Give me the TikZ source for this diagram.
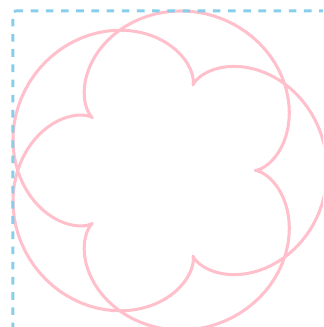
\documentclass[tikz,border=0pt]{standalone}
\usepackage{xcolor}
\usepackage{tikz}
\definecolor{curvedraw}{HTML}{FFC0CB}
\definecolor{framedraw}{HTML}{87CEEB}
\tikzset{
  epi/.style={draw=curvedraw, line width=1.2pt, line join=round},
  bbox/.style={draw=framedraw, dashed, line width=1.2pt, rounded corners=1pt},
}
\begin{document}
\begin{tikzpicture}[x=0.25cm, y=0.25cm]
  \clip (-9.178,-8.694) rectangle (8.767,9.472);
  % epicycloid, R=5, r=2
  \draw[epi] plot[domain=0:720, samples=361, variable=\t]
    ({7*cos(\t)-2*cos(3.5*\t)}, {7*sin(\t)-2*sin(3.5*\t)}) -- cycle;
  \draw[bbox] (-8.457,8.863) -- (9,8.863) -- (9,-8.863) -- (-8.457,-8.863) -- cycle;
\end{tikzpicture}
\end{document}
